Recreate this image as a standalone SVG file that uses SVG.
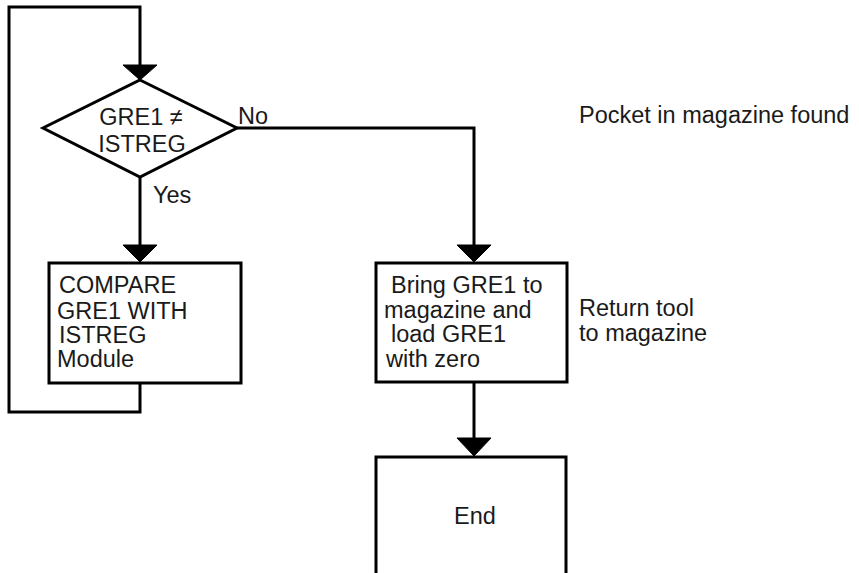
<svg xmlns="http://www.w3.org/2000/svg" width="859" height="573" viewBox="0 0 859 573">
<style>
.s{fill:none;stroke:#000;stroke-width:3;stroke-linejoin:miter}
.n{fill:#fff;stroke:#000;stroke-width:3}
.a{fill:#000;stroke:#000;stroke-width:1}
text{font-family:"Liberation Sans",Arial,sans-serif;font-size:23.5px;fill:#1a1a1a}
.m{text-anchor:middle}
</style>
<rect width="859" height="573" fill="#fff"/>
<g id="connectors">
<path class="s" d="M140,383 L140,412 L9,412 L9,7 L140,7 L140,66"/>
<polygon class="a" points="123,65 157,65 140,80"/>
<path class="s" d="M140,177 L140,246"/>
<polygon class="a" points="123,245 157,245 140,262"/>
<path class="s" d="M237,128 L474,128 L474,246"/>
<polygon class="a" points="457,245 491,245 474,262"/>
<path class="s" d="M474,382 L474,439"/>
<polygon class="a" points="457,438 491,438 474,456"/>
<text x="153" y="203">Yes</text>
<text x="238" y="124">No</text>
</g>
<g id="decision">
<polygon class="n" points="140,80 237,128 140,177 43,128"/>
<text class="m" x="141" y="125">GRE1 ≠</text>
<text class="m" x="142" y="152">ISTREG</text>
</g>
<g id="compare">
<rect class="n" x="49" y="263" width="192" height="120"/>
<text x="59" y="293">COMPARE</text>
<text x="57" y="319">GRE1 WITH</text>
<text x="59" y="343">ISTREG</text>
<text x="57" y="367">Module</text>
</g>
<g id="bring">
<rect class="n" x="376" y="263" width="191" height="119"/>
<text x="391" y="293">Bring GRE1 to</text>
<text x="384" y="318">magazine and</text>
<text x="391" y="342">load GRE1</text>
<text x="386" y="367">with zero</text>
</g>
<g id="end">
<path class="n" d="M376,575 L376,457 L566,457 L566,575"/>
<text class="m" x="475" y="524">End</text>
</g>
<g id="notes">
<text x="579" y="123">Pocket in magazine found</text>
<text x="579" y="316">Return tool</text>
<text x="579" y="341">to magazine</text>
</g>
</svg>
